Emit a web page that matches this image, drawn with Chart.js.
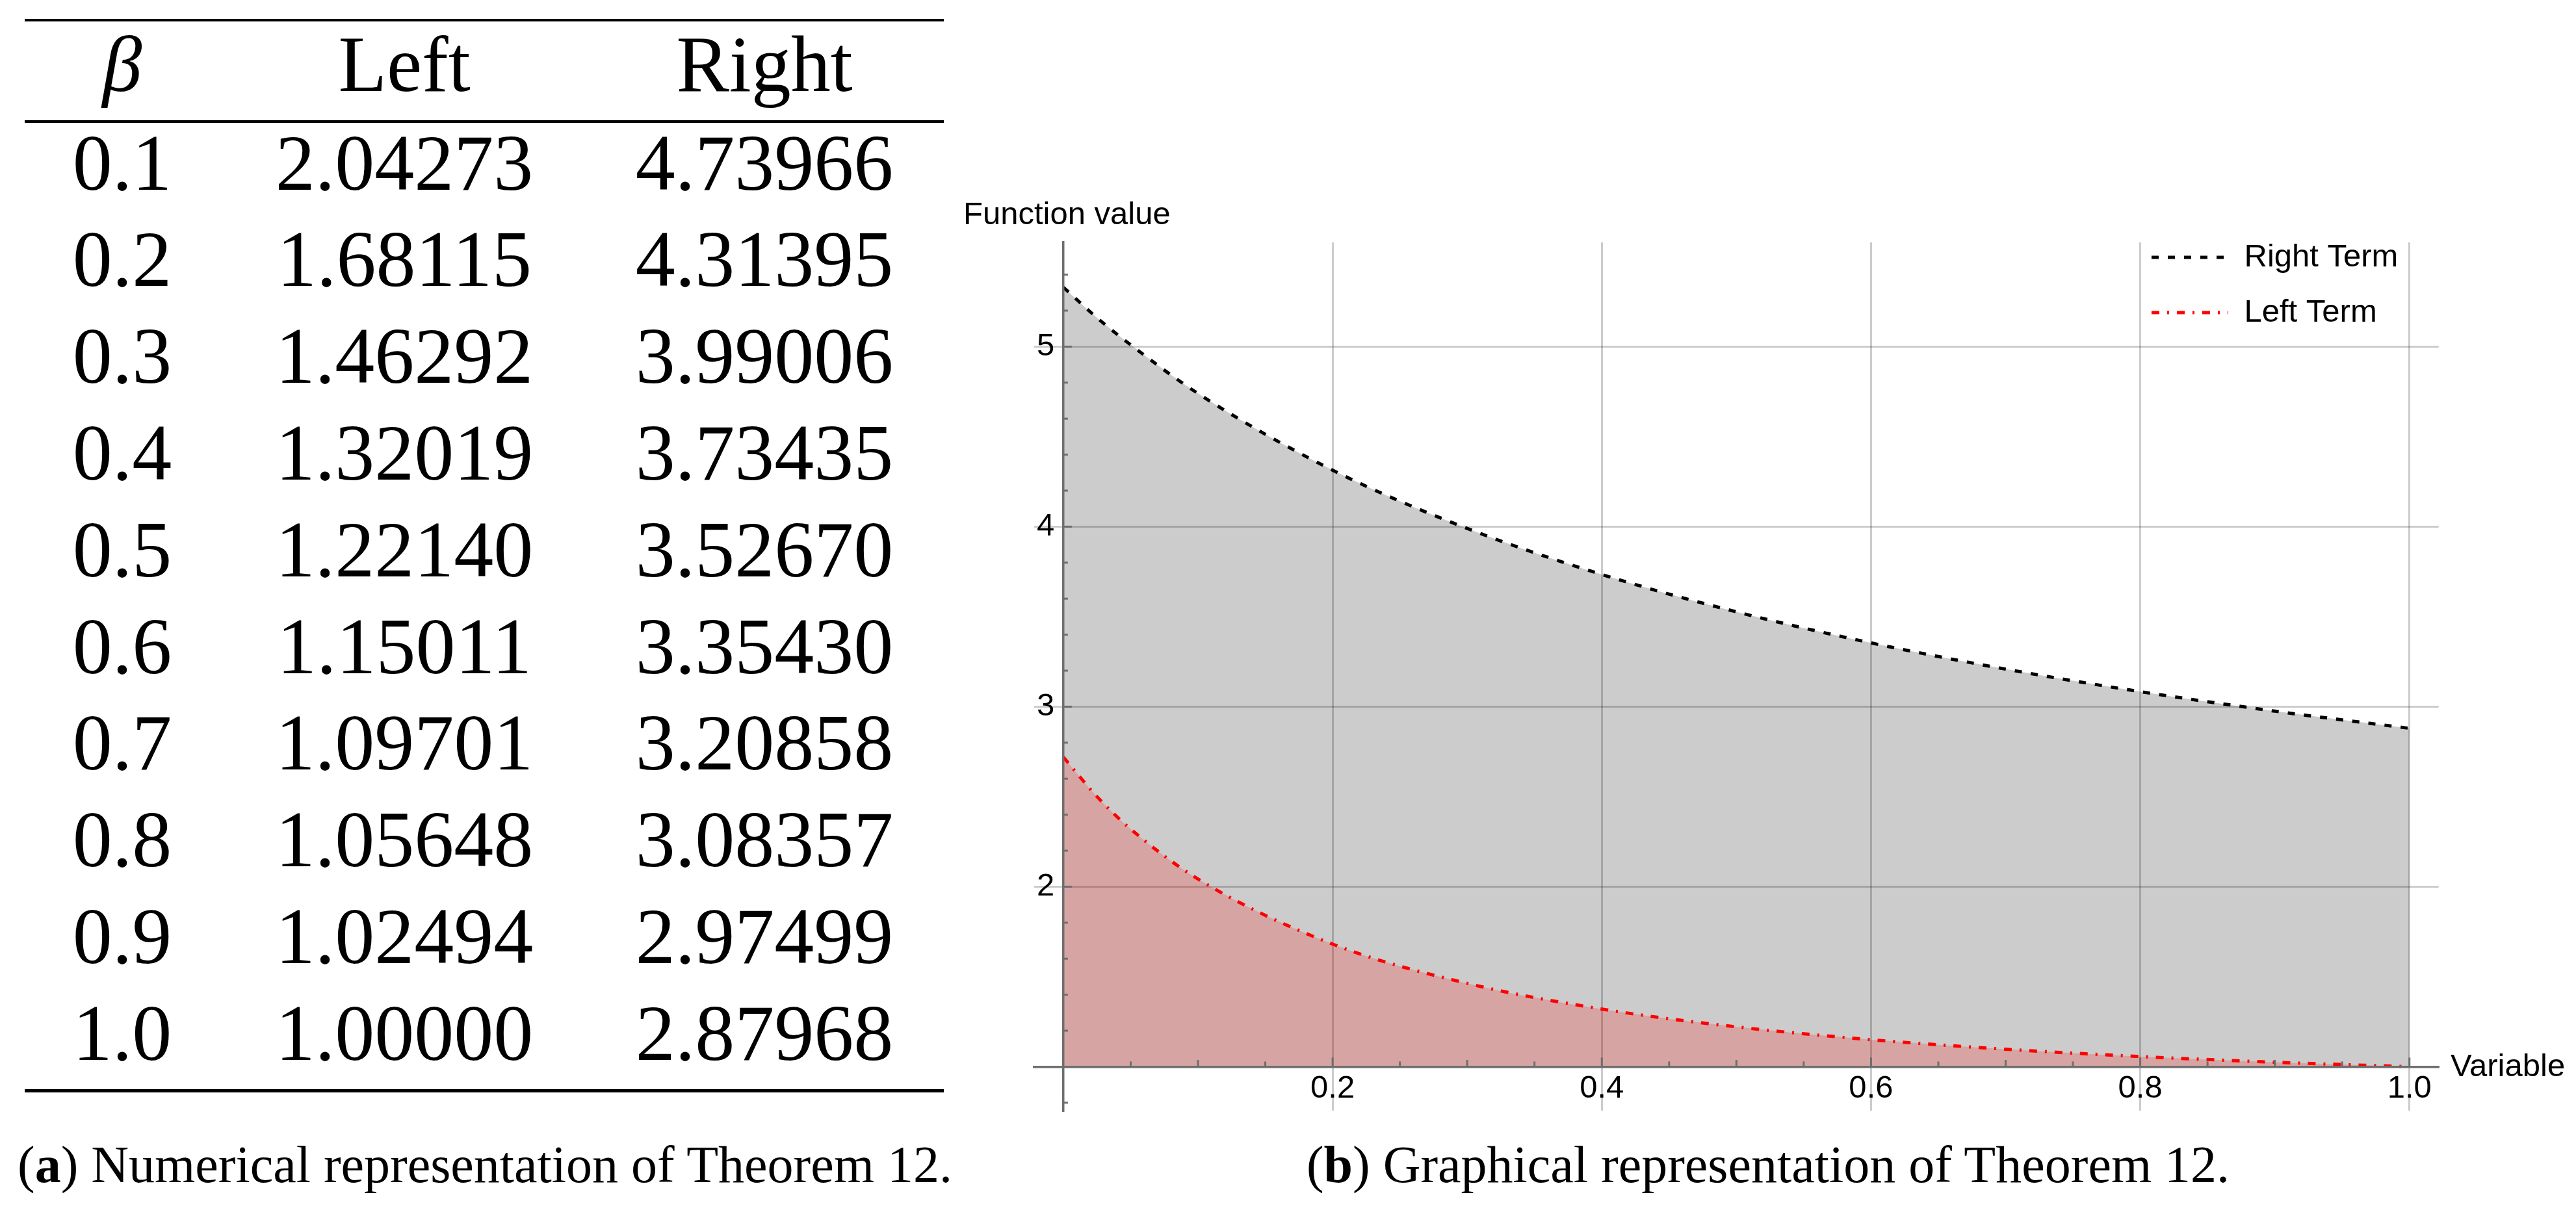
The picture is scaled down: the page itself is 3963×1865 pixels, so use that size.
<!DOCTYPE html>
<html>
<head>
<meta charset="utf-8">
<script src="https://cdn.jsdelivr.net/npm/chart.js"></script>
<style>
html,body{margin:0;padding:0;background:#fff;width:3963px;height:1865px;overflow:hidden;}
.t{position:absolute;white-space:nowrap;line-height:1;color:#000;margin:0;}
.serif{font-family:'Liberation Serif','Times New Roman',serif;}
.sans{font-family:'Liberation Sans',Arial,sans-serif;}
.rule{position:absolute;left:38px;width:1414px;background:#000;}
.cell{width:500px;text-align:center;font-size:122px;}
.cap{font-size:80px;text-align:center;}
#c{position:absolute;left:1541px;top:323px;}
</style>
</head>
<body>
<div id="table"></div>
<div class="rule" style="top:28.5px;height:4.5px"></div>
<div class="rule" style="top:185px;height:4px"></div>
<div class="rule" style="top:1676.4px;height:4.5px"></div>
<div class="t serif cap" style="left:0;width:1492px;top:1752px"><span>(<b>a</b>) Numerical representation of Theorem 12.</span></div>
<div class="t serif cap" style="left:1920px;width:1600px;top:1752px"><span>(<b>b</b>) Graphical representation of Theorem 12.</span></div>
<div class="t sans" style="left:1482px;top:303.5px;font-size:49px">Function value</div>
<div class="t sans" style="left:3770px;top:1615px;font-size:49px">Variable</div>
<canvas id="c" width="2261" height="1436"></canvas>
<script>
// ---- Table data (Theorem 12) ----
const betaValues  = [0.1, 0.2, 0.3, 0.4, 0.5, 0.6, 0.7, 0.8, 0.9, 1.0];
const leftValues  = [2.04273, 1.68115, 1.46292, 1.32019, 1.22140, 1.15011, 1.09701, 1.05648, 1.02494, 1.00000];
const rightValues = [4.73966, 4.31395, 3.99006, 3.73435, 3.52670, 3.35430, 3.20858, 3.08357, 2.97499, 2.87968];
const headers = ['β', 'Left', 'Right'];

// ---- Curve points ----
const nearZeroX     = [0, 0.025, 0.05];
const nearZeroLeft  = [2.72, 2.50, 2.32];
const nearZeroRight = [5.33, 5.16, 5.01];

// ---- Ticks ----
const xTickValues      = [0.2, 0.4, 0.6, 0.8, 1.0];
const xMidTickValues   = [0.1, 0.3, 0.5, 0.7, 0.9];
const xMinorTickValues = [0.05, 0.15, 0.25, 0.35, 0.45, 0.55, 0.65, 0.75, 0.85, 0.95];
const yTickValues      = [2, 3, 4, 5];
const yMinorTickValues = [0.8, 1.2, 1.4, 1.6, 1.8, 2.2, 2.4, 2.6, 2.8, 3.2, 3.4, 3.6, 3.8, 4.2, 4.4, 4.6, 4.8, 5.2, 5.4];

// ---- Build table ----
const colCenters = [188, 622, 1176];
const tbl = document.getElementById('table');
function addCell(text, col, top, italic) {
  const d = document.createElement('div');
  d.className = 't serif cell';
  d.style.left = (colCenters[col] - 250) + 'px';
  d.style.top = top + 'px';
  if (italic) d.style.fontStyle = 'italic';
  d.textContent = text;
  tbl.appendChild(d);
}
headers.forEach((h, j) => addCell(h, j, 37.8, j === 0));
betaValues.forEach((b, i) => {
  const top = 189.5 + 148.8 * i;
  addCell(b.toFixed(1), 0, top);
  addCell(leftValues[i].toFixed(5), 1, top);
  addCell(rightValues[i].toFixed(5), 2, top);
});

// ---- Chart ----
const chartX = nearZeroX.concat(betaValues);
const leftCurve = nearZeroLeft.concat(leftValues);
const rightCurve = nearZeroRight.concat(rightValues);

const axisColor = '#6e6e6e';
const gridColor = 'rgba(0,0,0,0.2)';
const sansFont = "'Liberation Sans', Arial, sans-serif";
Chart.defaults.font.family = sansFont;

const inwardTicks = {
  id: 'inwardTicks',
  afterDatasetsDraw(chart) {
    const {ctx, scales: {x, y}} = chart;
    const ax = x.getPixelForValue(0), ay = y.getPixelForValue(1);
    ctx.save();
    ctx.strokeStyle = axisColor;
    ctx.lineWidth = 3;
    ctx.setLineDash([]);
    const seg = (x1, y1, x2, y2) => { ctx.beginPath(); ctx.moveTo(x1, y1); ctx.lineTo(x2, y2); ctx.stroke(); };
    xTickValues.forEach(v => { const p = x.getPixelForValue(v); seg(p, ay, p, ay - 14); });
    xMidTickValues.forEach(v => { const p = x.getPixelForValue(v); seg(p, ay, p, ay - 10.5); });
    xMinorTickValues.forEach(v => { const p = x.getPixelForValue(v); seg(p, ay, p, ay - 8); });
    yTickValues.forEach(v => { const p = y.getPixelForValue(v); seg(ax, p, ax + 13, p); });
    yMinorTickValues.forEach(v => { const p = y.getPixelForValue(v); seg(ax, p, ax + 7, p); });
    ctx.restore();
  }
};

const legendPlacement = {
  id: 'legendPlacement',
  beforeDraw(chart) {
    const lg = chart.legend;
    if (!lg) return;
    lg.left = 1733;
    lg.top = 12.5;
  }
};

new Chart(document.getElementById('c'), {
  type: 'line',
  data: {
    datasets: [
      {
        label: 'Right Term',
        data: chartX.map((x, i) => ({x, y: rightCurve[i]})),
        borderColor: '#000000',
        borderWidth: 5,
        borderDash: [11, 14],
        borderCapStyle: 'butt',
        backgroundColor: 'rgba(0,0,0,0.2)',
        fill: {value: 1},
        pointRadius: 0,
        cubicInterpolationMode: 'monotone',
        order: 2
      },
      {
        label: 'Left Term',
        data: chartX.map((x, i) => ({x, y: leftCurve[i]})),
        borderColor: '#ff0000',
        borderWidth: 5,
        borderDash: [12, 12, 3, 12],
        borderCapStyle: 'butt',
        backgroundColor: 'rgba(255,0,0,0.2)',
        fill: {value: 1},
        pointRadius: 0,
        cubicInterpolationMode: 'monotone',
        order: 1
      }
    ]
  },
  options: {
    responsive: false,
    animation: false,
    devicePixelRatio: 1,
    events: [],
    layout: {padding: {left: 50, top: 50, right: 50.3, bottom: 50}, autoPadding: false},
    plugins: {
      legend: {
        position: 'chartArea',
        align: 'start',
        labels: {
          usePointStyle: true,
          pointStyle: 'line',
          pointStyleWidth: 118,
          padding: 36,
          color: '#000',
          font: {size: 49, family: sansFont},
          generateLabels: chart => Chart.defaults.plugins.legend.labels.generateLabels(chart).map(item => {
            const ds = chart.data.datasets[item.datasetIndex];
            return Object.assign({}, item, {
              lineDash: ds.borderDash,
              lineWidth: ds.borderWidth,
              strokeStyle: ds.borderColor,
              fillStyle: ds.borderColor,
              lineCap: 'butt'
            });
          }),
          sort: (a, b) => a.datasetIndex - b.datasetIndex
        }
      },
      tooltip: {enabled: false},
      title: {display: false}
    },
    scales: {
      x: {
        type: 'linear',
        axis: 'x',
        min: -0.0217,
        max: 1.0217,
        position: {y: 1},
        afterBuildTicks: s => { s.ticks = xTickValues.map(v => ({value: v})); },
        ticks: {callback: v => Number(v).toFixed(1), padding: 5, color: '#000', font: {size: 49}, autoSkip: false, maxRotation: 0},
        grid: {color: gridColor, lineWidth: 3, drawTicks: false},
        border: {color: axisColor, width: 3.5, z: 1}
      },
      y: {
        type: 'linear',
        axis: 'y',
        min: 0.756,
        max: 5.579,
        position: {x: 0},
        afterBuildTicks: s => { s.ticks = yTickValues.map(v => ({value: v})); },
        ticks: {callback: v => String(v) + ' ', padding: 0, color: '#000', font: {size: 49}, autoSkip: false},
        grid: {color: gridColor, lineWidth: 3, drawTicks: false},
        border: {color: axisColor, width: 3.5, z: 1}
      }
    }
  },
  plugins: [inwardTicks, legendPlacement]
});
</script>
</body>
</html>
